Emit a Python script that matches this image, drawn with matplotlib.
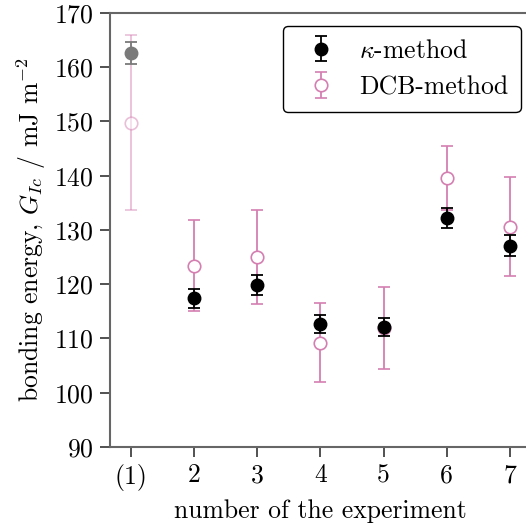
import numpy as np
import matplotlib
matplotlib.use("Agg")
import matplotlib.pyplot as plt

plt.rcParams['font.family'] = 'cmr10'
plt.rcParams['mathtext.fontset'] = 'cm'
plt.rcParams['axes.formatter.use_mathtext'] = True
plt.rcParams['font.size'] = 18.5

# experiment numbers and labels
experiments = [1, 2, 3, 4, 5, 6, 7]
tick_labels = ['(1)', '2', '3', '4', '5', '6', '7']

# kappa-method: value and error
kappa = [162.6, 117.4, 119.9, 112.7, 112.1, 132.2, 127.1]
kappa_err = [2.0, 1.8, 1.8, 1.7, 1.7, 1.9, 1.9]

# DCB-method: value and error
dcb = [149.8, 123.4, 125.0, 109.2, 111.9, 139.5, 130.6]
dcb_err = [16.2, 8.4, 8.6, 7.3, 7.6, 5.9, 9.1]

pink = '#d47fb1'
style = dict(fmt='o', ms=9, elinewidth=1.3, capsize=4, capthick=1.3)

fig = plt.figure(figsize=(5.26, 5.30), dpi=100)
ax = fig.add_axes([0.209, 0.1566, 0.80, 0.819])

# first experiment drawn faded
ax.errorbar(experiments[:1], dcb[:1], yerr=dcb_err[:1], mfc='white', mec=pink,
            ecolor=pink, color=pink, mew=1.2, alpha=0.5, zorder=2, **style)
ax.errorbar(experiments[:1], kappa[:1], yerr=kappa_err[:1], color='#7a7a7a',
            zorder=3, **style)

dcb_h = ax.errorbar(experiments[1:], dcb[1:], yerr=dcb_err[1:], mfc='white', mec=pink,
                    ecolor=pink, color=pink, mew=1.2, zorder=2, **style)
kappa_h = ax.errorbar(experiments[1:], kappa[1:], yerr=kappa_err[1:], color='black',
                      zorder=3, **style)

ax.set_xlim(0.668, 7.33)
ax.set_ylim(90, 170)
ax.set_xticks(experiments)
ax.set_xticklabels(tick_labels)
ax.set_yticks(np.arange(90, 171, 10))
ax.tick_params(direction='out', length=7, width=1.2, color='#333333', pad=5)

for s in ['left', 'top', 'bottom']:
    ax.spines[s].set_color('#666666')
    ax.spines[s].set_linewidth(1.5)
ax.spines['right'].set_visible(False)

ax.set_xlabel('number of the experiment', labelpad=6)
ax.set_ylabel(r'bonding energy, $G_{Ic}$ / mJ m$^{-2}$', labelpad=4)

leg = ax.legend([kappa_h, dcb_h], [r'$\kappa$-method', 'DCB-method'],
                loc='upper right', bbox_to_anchor=(0.976, 0.97), fancybox=True,
                edgecolor='black', framealpha=1, borderaxespad=0,
                handletextpad=0.45, borderpad=0.5, labelspacing=0.5)
leg.get_frame().set_linewidth(1.0)

fig.savefig('out.png', dpi=100)
